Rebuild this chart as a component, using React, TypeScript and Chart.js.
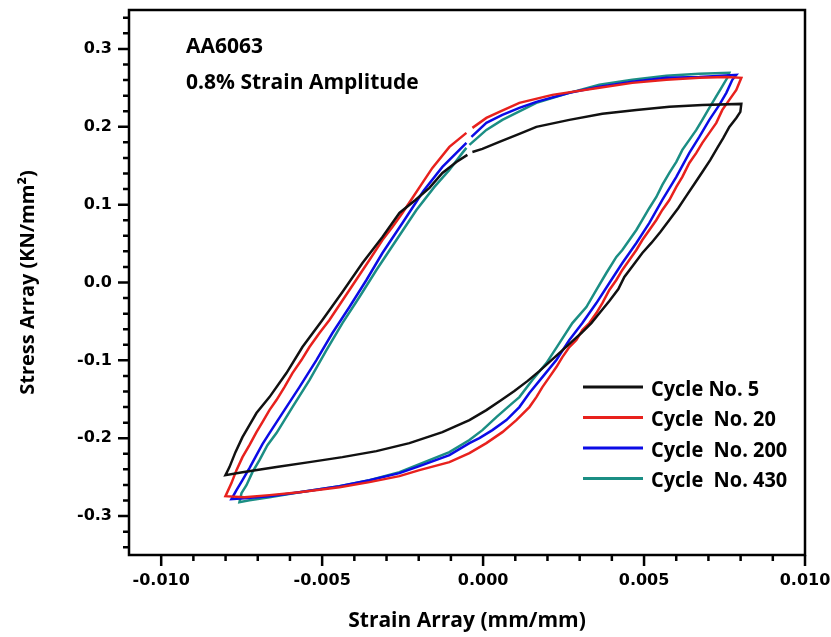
import React, { useEffect, useRef } from "react";
import { Chart, registerables } from "chart.js";

Chart.register(...registerables);

// ---------- data ----------
const seriesLabels = ["Cycle No. 5", "Cycle  No. 20", "Cycle  No. 200", "Cycle  No. 430"];
const seriesColors = ["#111111", "#e8211d", "#0b0be6", "#1b8e84"];

const xTickLabels = ["-0.010", "-0.005", "0.000", "0.005", "0.010"];
const yTickLabels = ["-0.3", "-0.2", "-0.1", "0.0", "0.1", "0.2", "0.3"];

const annotationLines = ["AA6063", "0.8% Strain Amplitude"];
const xTitle = "Strain Array (mm/mm)";
const yTitle = "Stress Array (KN/mm\u00B2)";

// Cycle No. 5
const cycle5Strain = [
  -0.000332, -0.000022, 0.000506, 0.001127, 0.001655, 0.00268, 0.003705, 0.004761, 0.005786, 0.006811, 0.008022,
  0.007991, 0.007866, 0.007649, 0.007463, 0.007276, 0.007059, 0.006811, 0.006562, 0.006314, 0.006065,
  0.005786, 0.005506, 0.005227, 0.004947, 0.004668, 0.004388, 0.004202, 0.003922, 0.003643, 0.003363,
  0.003053, 0.002742, 0.002401, 0.00209, 0.001748, 0.001376, 0.000972, 0.000568, 0.000102, -0.000425,
  -0.001264, -0.002289, -0.003314, -0.00437, -0.005394, -0.006419, -0.007475, -0.008003,
  -0.007879, -0.007693, -0.007475, -0.007258, -0.00704, -0.006637, -0.006109, -0.005612, -0.004991,
  -0.00437, -0.003748, -0.003127, -0.002599, -0.002102, -0.001667, -0.001264, -0.000829, -0.000488,
];
const cycle5Stress = [
  0.1677, 0.1716, 0.1806, 0.1909, 0.1999, 0.2089, 0.2166, 0.2217, 0.2256, 0.2281, 0.2294,
  0.2192, 0.2114, 0.1999, 0.1857, 0.1729, 0.1575, 0.142, 0.1266, 0.1112, 0.0957,
  0.0803, 0.0649, 0.0508, 0.0379, 0.0225, 0.0071, -0.0084, -0.0238, -0.0379, -0.0521,
  -0.0649, -0.0765, -0.0894, -0.101, -0.1138, -0.1267, -0.1395, -0.151, -0.1639, -0.1767,
  -0.1922, -0.2063, -0.2166, -0.2243, -0.2307, -0.2371, -0.2436, -0.2474,
  -0.2371, -0.2179, -0.1986, -0.1832, -0.1677, -0.1472, -0.1163, -0.0829, -0.0482,
  -0.0122, 0.0251, 0.0585, 0.0893, 0.106, 0.1215, 0.1407, 0.1549, 0.1639,
];

// Cycle No. 20
const cycle20Strain = [
  -0.000332, 0.000102, 0.000506, 0.001127, 0.002152, 0.003612, 0.004637, 0.005693, 0.006717, 0.007556, 0.008022,
  0.007866, 0.007649, 0.007432, 0.007245, 0.007028, 0.006811, 0.006624, 0.006407, 0.00619, 0.006003,
  0.005786, 0.005568, 0.005382, 0.005165, 0.004947, 0.004761, 0.004543, 0.004326, 0.00414, 0.003922,
  0.003705, 0.003519, 0.003301, 0.003084, 0.002898, 0.00268, 0.002463, 0.002276, 0.002059, 0.001842,
  0.001655, 0.001438, 0.001034, 0.000599, 0.000102, -0.000425, -0.001047, -0.001978, -0.002599, -0.003531,
  -0.004463, -0.005705, -0.006637, -0.007413, -0.008003,
  -0.007817, -0.007661, -0.007475, -0.007258, -0.00704, -0.006854, -0.006637, -0.006419, -0.006171, -0.005922,
  -0.005643, -0.005394, -0.005083, -0.004773, -0.004463, -0.004152, -0.003842, -0.003531, -0.003127, -0.002817,
  -0.002506, -0.002196, -0.001885, -0.001575, -0.001047, -0.000518,
];
const cycle20Stress = [
  0.1986, 0.2114, 0.2192, 0.2307, 0.241, 0.25, 0.2564, 0.2603, 0.2629, 0.2641, 0.2629,
  0.2474, 0.2346, 0.2217, 0.205, 0.1922, 0.1793, 0.1665, 0.1536, 0.1356, 0.1228,
  0.106, 0.0932, 0.0803, 0.0675, 0.0546, 0.0418, 0.0289, 0.0161, 0.0032, -0.0096,
  -0.0264, -0.0392, -0.0521, -0.0611, -0.0739, -0.0829, -0.0958, -0.1086, -0.1215, -0.1343,
  -0.1472, -0.16, -0.1767, -0.1922, -0.2063, -0.2191, -0.2307, -0.241, -0.2487, -0.2564,
  -0.2629, -0.2693, -0.2731, -0.2757, -0.2744,
  -0.2577, -0.241, -0.2243, -0.2089, -0.1922, -0.1793, -0.1639, -0.151, -0.1343, -0.1163,
  -0.0996, -0.0829, -0.0649, -0.0482, -0.0289, -0.0096, 0.0096, 0.0289, 0.0546, 0.0713,
  0.0893, 0.1086, 0.1279, 0.1472, 0.1742, 0.1922,
];

// Cycle No. 200
const cycle200Strain = [
  -0.000363, 0.000102, 0.000599, 0.001127, 0.001655, 0.00268, 0.003612, 0.004637, 0.005693, 0.006717, 0.007866,
  0.007742, 0.007556, 0.007339, 0.007028, 0.006717, 0.006407, 0.006003, 0.005568, 0.005165, 0.004761,
  0.004326, 0.003922, 0.003519, 0.003084, 0.00268, 0.002276, 0.001842, 0.001438, 0.001127, 0.000724,
  0.000289, -0.000115, -0.000425, -0.001047, -0.001978, -0.002599, -0.003531, -0.004463, -0.005705, -0.006637,
  -0.007413, -0.007817,
  -0.007661, -0.007475, -0.007258, -0.00704, -0.006854, -0.006637, -0.006233, -0.005705, -0.005177, -0.00468,
  -0.004152, -0.003624, -0.003127, -0.002506, -0.001854, -0.001264, -0.000829, -0.000518,
];
const cycle200Stress = [
  0.187, 0.205, 0.2153, 0.2243, 0.232, 0.2436, 0.2513, 0.2577, 0.2629, 0.2641, 0.2667,
  0.2603, 0.2436, 0.2281, 0.2089, 0.187, 0.1665, 0.1356, 0.106, 0.0765, 0.0508,
  0.0251, -0.0006, -0.0264, -0.0521, -0.0739, -0.0996, -0.1215, -0.142, -0.16, -0.1767,
  -0.1896, -0.1999, -0.2063, -0.2217, -0.2358, -0.2449, -0.2539, -0.2616, -0.2693, -0.2744,
  -0.277, -0.2783,
  -0.2667, -0.2539, -0.2384, -0.2217, -0.2076, -0.1934, -0.1677, -0.1343, -0.0996, -0.0649,
  -0.0315, 0.0032, 0.0379, 0.0765, 0.1176, 0.1485, 0.1665, 0.1793,
];

// Cycle No. 430
const cycle430Strain = [
  -0.000425, 0.000102, 0.000599, 0.001655, 0.00268, 0.003612, 0.004637, 0.005693, 0.006717, 0.007649,
  0.007587, 0.007401, 0.007214, 0.007028, 0.006811, 0.006624, 0.006407, 0.00619, 0.006003, 0.005786,
  0.005568, 0.005382, 0.005165, 0.004947, 0.004761, 0.004543, 0.004326, 0.00414, 0.003829, 0.003519,
  0.003208, 0.002773, 0.00237, 0.001966, 0.001531, 0.001127, 0.00091, 0.000413, -0.000022, -0.000425,
  -0.001047, -0.001978, -0.002599, -0.003531, -0.004463, -0.005705, -0.006637, -0.007258, -0.007568,
  -0.007506, -0.007351, -0.007165, -0.006947, -0.006699, -0.006419, -0.005922, -0.005394, -0.004866, -0.00437,
  -0.003842, -0.003314, -0.002693, -0.002071, -0.001512, -0.001047, -0.000643, -0.000518,
];
const cycle430Stress = [
  0.1767, 0.196, 0.2089, 0.2307, 0.2436, 0.2539, 0.2603, 0.2654, 0.268, 0.2693,
  0.2629, 0.25, 0.2371, 0.2243, 0.2089, 0.196, 0.1832, 0.1703, 0.1549, 0.1407,
  0.1253, 0.1099, 0.0957, 0.0803, 0.0675, 0.0546, 0.0418, 0.0328, 0.0122, -0.0096,
  -0.0315, -0.0521, -0.0778, -0.1035, -0.1253, -0.1472, -0.1549, -0.1729, -0.1896, -0.2024,
  -0.2179, -0.2333, -0.2436, -0.2539, -0.2616, -0.2693, -0.2757, -0.2796, -0.2821,
  -0.2706, -0.2603, -0.2436, -0.2281, -0.2089, -0.1934, -0.16, -0.1253, -0.0868, -0.0521,
  -0.0186, 0.0161, 0.0546, 0.0932, 0.1228, 0.1446, 0.1665, 0.1729,
];

const strainSeries = [cycle5Strain, cycle20Strain, cycle200Strain, cycle430Strain];
const stressSeries = [cycle5Stress, cycle20Stress, cycle200Stress, cycle430Stress];

const xMin = -0.011;
const xMax = 0.01;
const yMin = -0.35;
const yMax = 0.35;
const xMinorStep = 0.001;
const yMinorStep = 0.02;

// ---------- helpers ----------
function toPoints(xs: number[], ys: number[]) {
  const n = Math.min(xs.length, ys.length);
  const pts: { x: number; y: number }[] = [];
  for (let i = 0; i < n; i++) pts.push({ x: xs[i], y: ys[i] });
  return pts;
}

function stretchedText(ctx: CanvasRenderingContext2D, text: string, x: number, y: number, sx: number) {
  ctx.save();
  ctx.translate(x, y);
  ctx.scale(sx, 1);
  ctx.fillText(text, 0, 0);
  ctx.restore();
}

const decorPlugin = {
  id: "decor",
  afterDraw(chart: any) {
    const { ctx, chartArea: a, scales } = chart;
    const xs = scales.x;
    const ys = scales.y;
    ctx.save();
    // frame
    ctx.strokeStyle = "#000";
    ctx.lineWidth = 2.5;
    ctx.strokeRect(a.left, a.top, a.right - a.left, a.bottom - a.top);

    // ticks (major + minor)
    ctx.beginPath();
    const nx = Math.round((xMax - xMin) / xMinorStep);
    for (let i = 1; i <= nx; i++) {
      const k = Math.round(xMin / xMinorStep) + i;
      const px = xs.getPixelForValue(k * xMinorStep);
      const len = k % 5 === 0 ? 11 : 6;
      ctx.moveTo(px, a.bottom);
      ctx.lineTo(px, a.bottom + len);
    }
    const kMax = Math.floor(yMax / yMinorStep - 0.01);
    for (let k = -kMax; k <= kMax; k++) {
      const py = ys.getPixelForValue(k * yMinorStep);
      const len = k % 5 === 0 ? 11 : 6;
      ctx.moveTo(a.left, py);
      ctx.lineTo(a.left - len, py);
    }
    ctx.stroke();

    // annotation
    ctx.fillStyle = "#000";
    ctx.font = 'bold 21px "Open Sans"';
    ctx.textAlign = "left";
    ctx.textBaseline = "alphabetic";
    stretchedText(ctx, annotationLines[0], a.left + 57, a.top + 43, 1.0);
    stretchedText(ctx, annotationLines[1], a.left + 57, a.top + 79, 1.0);

    // legend
    const ds = chart.data.datasets;
    ds.forEach((d: any, i: number) => {
      const y = a.bottom - 168 + i * 30.5;
      ctx.strokeStyle = d.borderColor;
      ctx.lineWidth = 3;
      ctx.beginPath();
      ctx.moveTo(a.left + 454, y);
      ctx.lineTo(a.left + 514, y);
      ctx.stroke();
      ctx.fillStyle = "#000";
      ctx.font = 'bold 21px "Open Sans"';
      ctx.textBaseline = "middle";
      stretchedText(ctx, d.label, a.left + 522, y + 3, 0.95);
    });
    ctx.restore();
  },
};

export default function App() {
  const canvasRef = useRef<HTMLCanvasElement | null>(null);

  useEffect(() => {
    if (!canvasRef.current) return;
    const datasets = seriesLabels.map((label, i) => ({
      label,
      data: toPoints(strainSeries[i], stressSeries[i]),
      borderColor: seriesColors[i],
      backgroundColor: seriesColors[i],
      borderWidth: 2.5,
      pointRadius: 0,
      showLine: true,
      tension: 0,
      fill: false,
    }));
    const xTickValues = xTickLabels.map((s) => parseFloat(s));
    const yTickValues = yTickLabels.map((s) => parseFloat(s));

    const hiddenGrid = (len: number) => ({
      display: true,
      drawOnChartArea: false,
      drawTicks: true,
      tickLength: len,
      color: "rgba(0,0,0,0)",
      tickColor: "rgba(0,0,0,0)",
    });

    const chart = new Chart(canvasRef.current, {
      type: "scatter",
      data: { datasets },
      options: {
        animation: false,
        responsive: true,
        maintainAspectRatio: false,
        layout: { padding: { left: 0, right: 26, top: 10, bottom: 0 } },
        plugins: { legend: { display: false }, tooltip: { enabled: false } },
        scales: {
          x: {
            type: "linear",
            min: xMin,
            max: xMax,
            grid: hiddenGrid(16),
            border: { display: false },
            afterBuildTicks: (scale: any) => {
              scale.ticks = xTickValues.map((v) => ({ value: v }));
            },
            afterFit: (scale: any) => {
              scale.height = 82;
            },
            ticks: {
              padding: 0,
              color: "#000",
              maxRotation: 0,
              autoSkip: false,
              font: { family: '"DejaVu Sans"', size: 16, weight: "bold" },
              callback: (v: any) => {
                const idx = xTickValues.findIndex((t) => Math.abs(t - v) < 1e-9);
                return idx >= 0 ? xTickLabels[idx] : "";
              },
            },
            title: {
              display: true,
              text: xTitle,
              color: "#000",
              font: { family: '"Open Sans"', size: 21, weight: "bold" },
              padding: { top: 0, bottom: 3 },
            },
          },
          y: {
            type: "linear",
            min: yMin,
            max: yMax,
            grid: hiddenGrid(17),
            border: { display: false },
            afterBuildTicks: (scale: any) => {
              scale.ticks = yTickValues.map((v) => ({ value: v }));
            },
            afterFit: (scale: any) => {
              scale.width = 121;
            },
            ticks: {
              padding: 0,
              color: "#000",
              autoSkip: false,
              font: { family: '"DejaVu Sans"', size: 16, weight: "bold" },
              callback: (v: any) => {
                const idx = yTickValues.findIndex((t) => Math.abs(t - v) < 1e-9);
                return idx >= 0 ? yTickLabels[idx] : "";
              },
            },
            title: {
              display: true,
              text: yTitle,
              color: "#000",
              font: { family: '"Open Sans"', size: 20, weight: "bold" },
              padding: { top: 8, bottom: 0 },
            },
          },
        },
      },
      plugins: [decorPlugin],
    } as any);
    return () => chart.destroy();
  }, []);

  return (
    <div style={{ position: "absolute", left: 8, top: 0, width: 823, height: 637 }}>
      <canvas ref={canvasRef} />
    </div>
  );
}
